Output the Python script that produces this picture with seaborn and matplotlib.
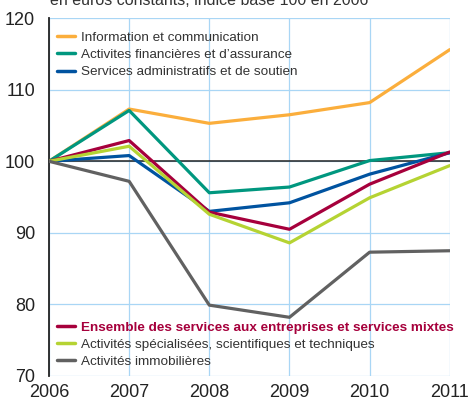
import pandas as pd
import numpy as np
import matplotlib.pyplot as plt
import seaborn as sns
from matplotlib.lines import Line2D

years = [2006, 2007, 2008, 2009, 2010, 2011]

info_comm = [100, 107.3, 105.3, 106.5, 108.2, 115.6]
financ = [100, 107.1, 95.6, 96.4, 100.1, 101.2]
admin = [100, 100.8, 93.0, 94.2, 98.2, 101.2]
ensemble = [100, 102.9, 92.9, 90.5, 96.8, 101.3]
specialisees = [100, 102.1, 92.6, 88.6, 94.9, 99.4]
immo = [100, 97.2, 79.9, 78.2, 87.3, 87.5]

names = [
    "Information et communication",
    "Activites financières et d’assurance",
    "Services administratifs et de soutien",
    "Ensemble des services aux entreprises et services mixtes",
    "Activités spécialisées, scientifiques et techniques",
    "Activités immobilières",
]
series = [info_comm, financ, admin, ensemble, specialisees, immo]
colors = ["#fbae3c", "#00977f", "#0053a0", "#a6003c", "#b5d333", "#616161"]

sns.set_style("white")
plt.rcParams['font.family'] = ['Liberation Sans', 'DejaVu Sans']

df = pd.DataFrame({
    'year': years * len(names),
    'value': sum(series, []),
    'serie': np.repeat(names, len(years)),
})

fig = plt.figure(figsize=(4.71, 4.03), dpi=100)
ax = fig.add_axes([0.104, 0.067, 0.851, 0.888])

sns.lineplot(data=df, x='year', y='value', hue='serie', hue_order=names,
             palette=colors, linewidth=2.3, legend=False, ax=ax, zorder=3)
ax.axhline(100, color='#222222', lw=1.1, zorder=2)

ax.set_xlim(2006, 2011)
ax.set_ylim(70, 120)
ax.set_xticks(years)
ax.set_yticks([70, 80, 90, 100, 110, 120])
ax.grid(True, color='#a9d6f5', lw=0.9)
ax.tick_params(length=0, labelsize=13, colors='#222222')
ax.tick_params(axis='y', pad=10)
ax.tick_params(axis='x', pad=6)
ax.set_xlabel('')
ax.set_ylabel('')
for s in ['top', 'right', 'bottom']:
    ax.spines[s].set_visible(False)
ax.spines['left'].set_color('#222222')
ax.spines['left'].set_linewidth(1.3)

leg_kw = dict(frameon=False, fontsize=9.7, handlelength=1.3, handletextpad=0.5,
              labelspacing=0.35, borderaxespad=0.2)
h1 = [Line2D([], [], color=c, lw=2.5) for c in colors[:3]]
leg1 = ax.legend(h1, names[:3], loc='upper left', bbox_to_anchor=(0.0, 0.985), **leg_kw)
ax.add_artist(leg1)
h2 = [Line2D([], [], color=c, lw=2.5) for c in colors[3:]]
leg2 = ax.legend(h2, names[3:], loc='lower left', bbox_to_anchor=(0.0, 0.0), **leg_kw)
for t in leg1.get_texts() + leg2.get_texts():
    t.set_color('#333333')
t0 = leg2.get_texts()[0]
t0.set_color('#a6003c')
t0.set_fontweight('bold')

fig.text(0.106, 0.998, "en euros constants, indice base 100 en 2006",
         fontsize=11.5, color='#333333', va='center', ha='left')

fig.savefig('out.png', dpi=100)
